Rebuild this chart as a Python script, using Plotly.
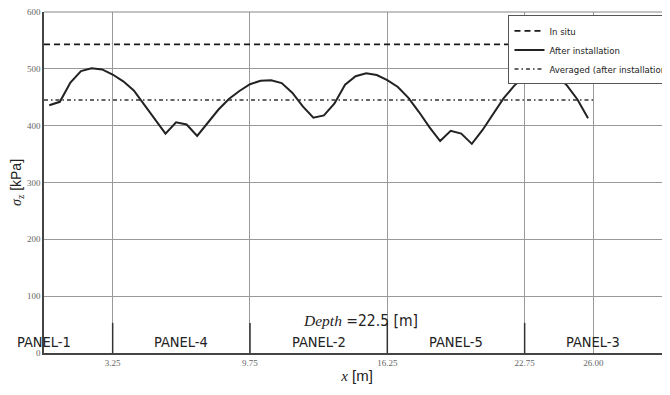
import plotly.graph_objects as go

# ---- data ----
x_pos = [0.25, 0.75, 1.25, 1.75, 2.25, 2.75, 3.25, 3.75, 4.25, 4.75,
         5.25, 5.75, 6.25, 6.75, 7.25, 7.75, 8.25, 8.75, 9.25, 9.75,
         10.25, 10.75, 11.25, 11.75, 12.25, 12.75, 13.25, 13.75, 14.25, 14.75,
         15.25, 15.75, 16.25, 16.75, 17.25, 17.75, 18.25, 18.75, 19.25, 19.75,
         20.25, 20.75, 21.25, 21.75, 22.25, 22.75, 23.25, 23.75, 24.25, 24.75,
         25.25, 25.75]
sigma_after = [436, 442, 476, 496, 501, 499, 490, 478, 462, 437,
               410, 386, 406, 402, 382, 405, 428, 447, 461, 473,
               479, 480, 475, 458, 434, 414, 418, 439, 472, 487,
               492, 489, 480, 468, 449, 424, 397, 373, 391, 386,
               368, 392, 421, 448, 470, 487, 497, 498, 488, 471,
               446, 413]
in_situ_value = 543
averaged_value = 445
line_x_span = [0.0, 26.0]

panel_boundaries = [3.25, 9.75, 16.25, 22.75]
panel_names = ["PANEL-1", "PANEL-4", "PANEL-2", "PANEL-5", "PANEL-3"]
panel_centers = [0.0, 6.5, 13.0, 19.5, 26.0]
x_tick_vals = [3.25, 9.75, 16.25, 22.75, 26.00]
x_tick_text = ["3.25", "9.75", "16.25", "22.75", "26.00"]
y_tick_vals = [0, 100, 200, 300, 400, 500, 600]
depth_label = "<span style='font-family:Liberation Serif'><i>Depth</i></span> =22.5 [m]"

COND = "DejaVu Sans Condensed, Liberation Sans Narrow, Liberation Sans, Arial"

fig = go.Figure()
fig.add_trace(go.Scatter(
    x=line_x_span, y=[in_situ_value, in_situ_value], mode="lines",
    name="In situ", line=dict(color="#1a1a1a", width=1.6, dash="6px,4px")))
fig.add_trace(go.Scatter(
    x=x_pos, y=sigma_after, mode="lines",
    name="After installation", line=dict(color="#222222", width=2)))
fig.add_trace(go.Scatter(
    x=line_x_span, y=[averaged_value, averaged_value], mode="lines",
    name="Averaged (after installation)",
    line=dict(color="#333333", width=1.5, dash="4px,3px,1.5px,3px")))

for b in panel_boundaries:
    fig.add_shape(type="line", x0=b, x1=b, y0=0, y1=53, xref="x", yref="y",
                  line=dict(color="#333333", width=1.5))

# top frame line
fig.add_shape(type="line", x0=0, x1=1, y0=1, y1=1, xref="paper", yref="paper",
              line=dict(color="#888", width=1.2))

for name, cx in zip(panel_names, panel_centers):
    fig.add_annotation(x=cx, y=20, text=name, showarrow=False, xref="x", yref="y",
                       font=dict(family=COND, size=14.5, color="#222"))

fig.add_annotation(x=15.0, y=56, text=depth_label, showarrow=False, xref="x", yref="y",
                   font=dict(family=COND, size=15.5, color="#222"))

# page body has an 8px default margin: compensate in figure size / margins
fig.update_layout(
    width=662, height=387,
    margin=dict(l=36, r=0, t=4, b=42, autoexpand=False),
    paper_bgcolor="white", plot_bgcolor="white",
    showlegend=True,
    legend=dict(x=0.742, y=0.99, xanchor="left", yanchor="top",
                bgcolor="white", bordercolor="#555", borderwidth=1,
                font=dict(family=COND, size=9.5, color="#222"),
                itemwidth=30, tracegroupgap=0),
    xaxis=dict(range=[0, 29.63], tickvals=x_tick_vals, ticktext=x_tick_text,
               showgrid=True, gridcolor="#999", gridwidth=1,
               showline=True, linecolor="#444", linewidth=1.5, mirror=False,
               zeroline=False, ticks="",
               tickfont=dict(family="Liberation Serif, Times New Roman", size=9, color="#666"),
               title=dict(text="<span style='font-family:Liberation Serif'><i>x</i></span> [m]",
                          standoff=4,
                          font=dict(family="Liberation Sans, Arial", size=15, color="#222"))),
    yaxis=dict(range=[0, 600], tickvals=y_tick_vals, ticklabeloverflow="allow",
               showgrid=True, gridcolor="#999", gridwidth=1,
               showline=True, linecolor="#444", linewidth=1.5,
               zeroline=False, ticks="",
               tickfont=dict(family="Liberation Serif, Times New Roman", size=9, color="#666"),
               title=dict(text="<span style='font-family:Liberation Serif'><i>σ</i><sub>z</sub></span> [kPa]",
                          standoff=6,
                          font=dict(family="Liberation Sans, Arial", size=14, color="#222"))),
)

fig.write_html("out.html")
